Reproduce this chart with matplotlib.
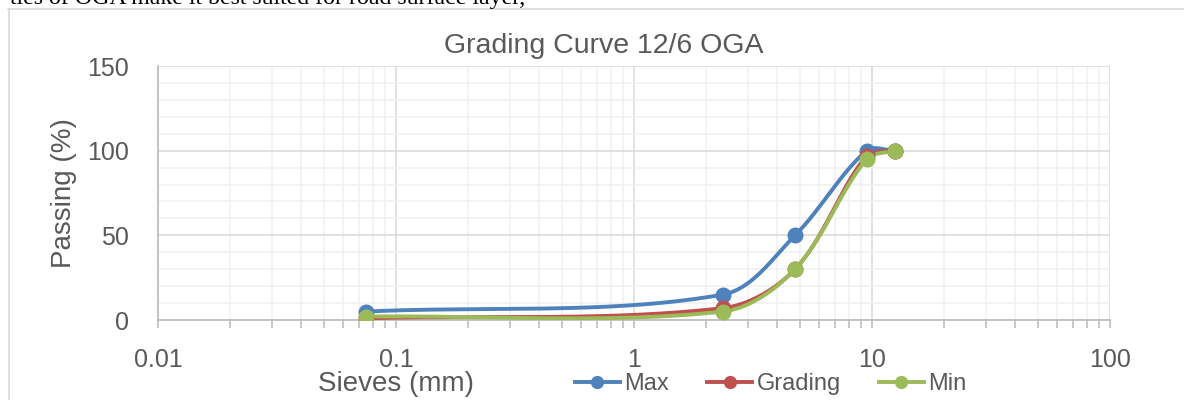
import numpy as np
import matplotlib
matplotlib.use("Agg")
import matplotlib.pyplot as plt
from matplotlib.lines import Line2D
from matplotlib.ticker import FixedLocator, LogLocator, NullFormatter, FuncFormatter

# sieve sizes (mm) and passing (%)
sieves = [0.075, 2.36, 4.75, 9.5, 12.5]
max_pass = [5, 15, 50, 100, 100]
grading = [1, 7, 30, 97, 100]
min_pass = [2, 5, 30, 95, 100]

series_names = ["Max", "Grading", "Min"]
series_colors = ["#4F81BD", "#C0504D", "#9BBB59"]

plt.rcParams['font.family'] = ['Liberation Sans', 'DejaVu Sans']
grey = "#595959"

fig = plt.figure(figsize=(11.93, 4.0), dpi=100)
ax = fig.add_axes([158 / 1193, 80 / 400, 952 / 1193, 254 / 400])
ax.set_xscale('log')
ax.set_xlim(0.01, 100)
ax.set_ylim(0, 150)

W, H = 952.0, 254.0


def smooth(xs, ys, n=40):
    # smoothed line like excel: bezier segments, tangents scaled by chord length
    u = (np.log10(xs) + 2) / 4 * W
    v = np.asarray(ys, float) / 150 * H
    P = np.column_stack([u, v])
    d = np.linalg.norm(np.diff(P, axis=0), axis=1)
    m = len(P)
    T = np.zeros_like(P)
    T[0] = (P[1] - P[0]) / d[0]
    T[-1] = (P[-1] - P[-2]) / d[-1]
    for i in range(1, m - 1):
        T[i] = (P[i + 1] - P[i - 1]) / (d[i - 1] + d[i])
    out = []
    t = np.linspace(0, 1, n)[:, None]
    for i in range(m - 1):
        p0, p1 = P[i], P[i + 1]
        c1 = p0 + T[i] * d[i] / 3
        c2 = p1 - T[i + 1] * d[i] / 3
        seg = (1 - t) ** 3 * p0 + 3 * (1 - t) ** 2 * t * c1 + 3 * (1 - t) * t ** 2 * c2 + t ** 3 * p1
        out.append(seg)
    out = np.vstack(out)
    return 10 ** (out[:, 0] / W * 4 - 2), out[:, 1] / H * 150


handles = []
for ys, name, col in zip([max_pass, grading, min_pass], series_names, series_colors):
    sx, sy = smooth(sieves, ys)
    ax.plot(sx, sy, color=col, lw=2.8, solid_capstyle='round', zorder=3)
    ax.plot(sieves, ys, 'o', color=col, ms=10.5, zorder=4)
    handles.append(Line2D([], [], color=col, lw=2.8, marker='o', ms=8.5, label=name))

# grid
ax.yaxis.set_major_locator(FixedLocator([0, 50, 100, 150]))
ax.yaxis.set_minor_locator(FixedLocator(np.arange(0, 151, 10)))
ax.xaxis.set_major_locator(LogLocator(base=10, numticks=10))
ax.xaxis.set_minor_locator(LogLocator(base=10, subs=np.arange(2, 10), numticks=20))
ax.xaxis.set_minor_formatter(NullFormatter())
ax.xaxis.set_major_formatter(FuncFormatter(lambda v, p: '%g' % v))
ax.grid(True, which='major', color='#D9D9D9', lw=1.1)
ax.grid(True, which='minor', color='#F0F0F0', lw=1.1)
ax.set_axisbelow(True)

for s in ['top', 'right']:
    ax.spines[s].set_visible(False)
for s in ['left', 'bottom']:
    ax.spines[s].set_color('#BFBFBF')
    ax.spines[s].set_linewidth(1.3)

ax.tick_params(axis='x', which='both', direction='out', length=5.5, width=1.2, color='#BFBFBF',
               labelsize=18, labelcolor=grey, pad=15)
ax.tick_params(axis='y', which='both', length=0, labelsize=18, labelcolor=grey, pad=21)

fig.text(604 / 1193, 1 - 46 / 400, 'Grading Curve 12/6 OGA', fontsize=20.5, color=grey,
         ha='center', va='center')
ax.set_ylabel('Passing (%)', fontsize=20, color=grey, va='center')
ax.yaxis.set_label_coords((64 - 158) / W, 0.5)
ax.set_xlabel('Sieves (mm)', fontsize=20, color=grey, va='center')
ax.xaxis.set_label_coords((396 - 158) / W, -(384 - 320) / H)

leg = fig.legend(handles=handles, loc='center left', bbox_to_anchor=(575 / 1193, 1 - 384 / 400),
                 ncol=3, frameon=False, fontsize=17, handlelength=1.9, handletextpad=0.2,
                 columnspacing=1.6, borderpad=0, borderaxespad=0)
for t in leg.get_texts():
    t.set_color(grey)

# chart frame and cropped text line above it
fig.add_artist(Line2D([8 / 1193, 1183 / 1193], [1 - 8.5 / 400, 1 - 8.5 / 400], color='#D9D9D9', lw=1.2,
                      transform=fig.transFigure))
fig.add_artist(Line2D([8.5 / 1193, 8.5 / 1193], [1 - 8.5 / 400, 0], color='#D9D9D9', lw=1.2,
                      transform=fig.transFigure))
fig.text(525 / 1193, 1 - 4 / 400, 'ties of OGA make it best suited for road surface layer,',
         ha='right', va='baseline', fontsize=17.2, family=['Liberation Serif'], color='black')

fig.savefig('out.png', dpi=100)
